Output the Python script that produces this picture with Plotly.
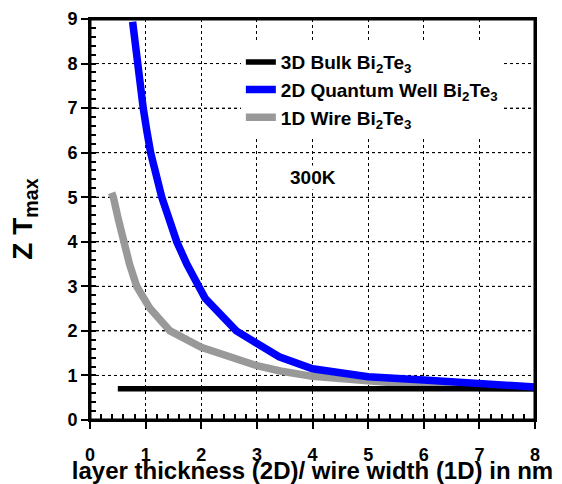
import plotly.graph_objects as go

# ---- data ----
x_bulk = [0.5, 8.0]
y_bulk = [0.70, 0.70]

x_2d = [0.766, 0.85, 0.90, 0.957, 1.02, 1.09, 1.29, 1.41, 1.56, 1.74, 1.93, 2.07, 2.63, 3.0, 3.4, 4.0, 5.0, 6.0, 7.0, 8.0]
y_2d = [8.94, 8.0, 7.5, 7.0, 6.5, 6.0, 5.0, 4.5, 4.0, 3.5, 3.0, 2.73, 2.0, 1.70, 1.42, 1.15, 0.97, 0.90, 0.83, 0.74]

x_1d = [0.39, 0.42, 0.51, 0.60, 0.71, 0.84, 1.08, 1.44, 2.0, 3.0, 3.42, 4.0, 5.0, 6.0, 7.0, 8.0]
y_1d = [5.10, 5.0, 4.5, 4.0, 3.5, 3.0, 2.5, 2.0, 1.63, 1.22, 1.10, 0.98, 0.86, 0.78, 0.73, 0.71]

x_range = [0, 8]
y_range = [0, 9]
y_ticks = [0, 1, 2, 3, 4, 5, 6, 7, 8, 9]
major_step = 1
minor_step = 0.2

names = ["3D Bulk Bi<sub>2</sub>Te<sub>3</sub>",
         "2D Quantum Well Bi<sub>2</sub>Te<sub>3</sub>",
         "1D Wire Bi<sub>2</sub>Te<sub>3</sub>"]

FONT = "Arial, Liberation Sans, sans-serif"

fig = go.Figure()

# horizontal dotted grid lines at the y ticks
for t in y_ticks[1:-1]:
    fig.add_trace(go.Scatter(x=x_range, y=[t, t], mode="lines",
                             line=dict(color="#000000", width=1, dash="dot"),
                             showlegend=False, hoverinfo="skip"))

fig.add_trace(go.Scatter(x=x_1d, y=y_1d, mode="lines", name=names[2], legendrank=3,
                         line=dict(color="#999999", width=7.5)))
fig.add_trace(go.Scatter(x=x_bulk, y=y_bulk, mode="lines", name=names[0], legendrank=1,
                         line=dict(color="#000000", width=5.5)))
fig.add_trace(go.Scatter(x=x_2d, y=y_2d, mode="lines", name=names[1], legendrank=2,
                         line=dict(color="#0000ff", width=7.5)))

# invisible trace that carries the minor-tick overlay axes
fig.add_trace(go.Scatter(x=[None], y=[None], xaxis="x2", yaxis="y2", mode="lines",
                         showlegend=False, hoverinfo="skip"))

minor_axis = dict(tickmode="linear", tick0=0, dtick=minor_step, ticks="inside", ticklen=6,
                  tickwidth=1.5, tickcolor="#000000", showticklabels=False,
                  showgrid=False, showline=False, zeroline=False)

fig.update_layout(
    width=554, height=476,
    margin=dict(l=82, r=27, t=11, b=64, autoexpand=False),
    paper_bgcolor="white", plot_bgcolor="white",
    font=dict(family=FONT, size=18, color="black"),
    showlegend=True,
    legend=dict(x=0.339, y=0.94, xanchor="left", yanchor="top",
                bgcolor="white", borderwidth=0,
                font=dict(size=19, family=FONT, weight="bold"),
                tracegroupgap=0, itemwidth=30),
    xaxis=dict(range=x_range, tickmode="linear", tick0=0, dtick=major_step,
               ticks="outside", ticklen=7, tickwidth=2, tickcolor="#000000",
               tickfont=dict(size=18, family=FONT, weight="bold"),
               ticklabelstandoff=10,
               showgrid=True, gridcolor="#000000", griddash="dot", gridwidth=1,
               showline=True, linecolor="#000000", linewidth=2, mirror=True, zeroline=False,
               title=dict(text="layer thickness (2D)/ wire width (1D) in nm",
                          font=dict(size=24, family=FONT, weight="bold"), standoff=6)),
    yaxis=dict(range=y_range, tickmode="linear", tick0=0, dtick=major_step,
               ticks="outside", ticklen=7, tickwidth=2, tickcolor="#000000",
               tickfont=dict(size=18, family=FONT, weight="bold"),
               showgrid=True, gridcolor="#000000", griddash="dot", gridwidth=1,
               showline=True, linecolor="#000000", linewidth=2, mirror=True, zeroline=False),
    xaxis2=dict(overlaying="x", side="bottom", range=x_range, **minor_axis),
    yaxis2=dict(overlaying="y", side="left", range=y_range, **minor_axis),
    annotations=[
        dict(x=4.0, y=5.45, xref="x", yref="y", text="300K", showarrow=False,
             bgcolor="white", font=dict(size=19, family=FONT, weight="bold")),
        dict(x=-0.148, y=0.5, xref="paper", yref="paper", text="Z T<sub>max</sub>",
             textangle=-90, showarrow=False, xanchor="center", yanchor="middle",
             font=dict(size=28, family=FONT, weight="bold")),
    ],
    shapes=[dict(type="rect", xref="paper", yref="paper", x0=0, x1=1, y0=0, y1=1,
                 line=dict(color="#000000", width=3), fillcolor="rgba(0,0,0,0)",
                 layer="above")],
)

fig.write_html("out.html")
